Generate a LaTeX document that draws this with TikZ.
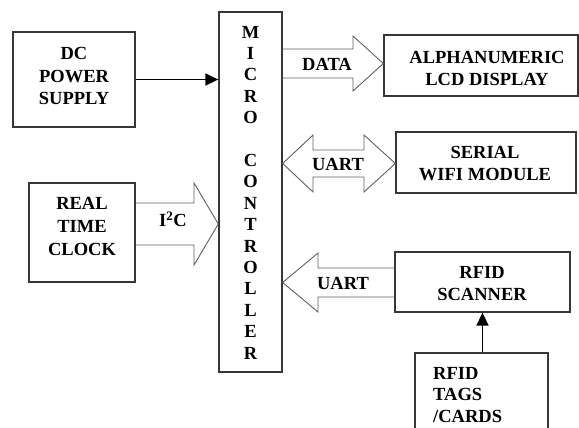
\documentclass[tikz,border=0pt]{standalone}
\usepackage{fontspec}
\setmainfont{Liberation Serif}
\usetikzlibrary{arrows.meta}
\definecolor{boxline}{RGB}{55,55,55}
\definecolor{fatline}{RGB}{95,95,95}
\begin{document}
\begin{tikzpicture}[x=1pt,y=-1pt,
  box/.style={draw=boxline, line width=1.3pt, rectangle, inner sep=0pt},
  lbl/.style={font=\bfseries\fontsize{18.5}{22.7}\selectfont, align=center, inner sep=0pt},
  fat/.style={draw=fatline, line width=0.9pt, line join=miter},
  thinarrow/.style={draw=black, line width=1.7pt, -{Triangle[length=13pt,width=12pt]}}]
\clip (0,0) rectangle (579,428);
% boxes
\node[box, minimum width=122pt, minimum height=95pt] (dc) at (74,79.5) {};
\node[box, minimum width=63pt, minimum height=360pt] (mc) at (250.5,192) {};
\node[box, minimum width=106pt, minimum height=99pt] (rtc) at (82,232.5) {};
\node[box, minimum width=194pt, minimum height=61pt] (lcd) at (481,65.5) {};
\node[box, minimum width=180pt, minimum height=61pt] (wifi) at (486,162.5) {};
\node[box, minimum width=175pt, minimum height=60pt] (rfid) at (482.5,282) {};
\node[box, minimum width=133pt, minimum height=120pt] (tags) at (481.5,413) {};
% texts
\node[lbl] (dct) at (74,76) {DC\\POWER\\SUPPLY};
\node[lbl, font=\bfseries\fontsize{18.5}{21.4}\selectfont] (mct) at (250.5,192.5)
  {M\\I\\C\\R\\O\\~\\C\\O\\N\\T\\R\\O\\L\\L\\E\\R};
\node[lbl] (rtct) at (82,226.5) {REAL\\TIME\\CLOCK};
\node[lbl, font=\bfseries\fontsize{18.5}{22}\selectfont] (lcdt) at (487,68) {ALPHANUMERIC\\LCD DISPLAY};
\node[lbl, font=\bfseries\fontsize{18.5}{22}\selectfont] (wifit) at (485,164) {SERIAL\\WIFI MODULE};
\node[lbl, font=\bfseries\fontsize{18.5}{22}\selectfont] (rfidt) at (482,284) {RFID\\SCANNER};
\node[lbl, font=\bfseries\fontsize{18.5}{21.5}\selectfont, align=left, anchor=north west] (tagst) at (433,367) {RFID\\TAGS\\/CARDS};
% simple arrows
\draw[thinarrow] (dc.east) -- (mc.west |- dc.east);
\draw[thinarrow] (tags.north -| rfid.south) -- (rfid.south);
% fat arrows
\draw[fat] (mc.east |- 0,49) -- (353,49) -- (353,36) -- (lcd.west |- 0,63.5) -- (353,91) -- (353,78) -- (mc.east |- 0,78);
\draw[fat] (mc.east |- 0,163.5) -- (313,135) -- (313,150) -- (364,150) -- (364,135) -- (wifi.west |- 0,163.5)
  -- (364,192) -- (364,177) -- (313,177) -- (313,192) -- cycle;
\draw[fat] (rfid.west |- 0,268) -- (318,268) -- (318,253) -- (mc.east |- 0,282.5) -- (318,312) -- (318,297) -- (rfid.west |- 0,297);
\draw[fat] (rtc.east |- 0,203) -- (194,203) -- (194,183) -- (mc.west |- 0,224) -- (194,265) -- (194,245) -- (rtc.east |- 0,245);
% arrow labels
\node[lbl] (datal) at (327,64) {DATA};
\node[lbl] (uart1) at (338,164) {UART};
\node[lbl] (uart2) at (343,283) {UART};
\node[lbl] (i2c) at (173,219) {I\textsuperscript{2}C};
\end{tikzpicture}
\end{document}
